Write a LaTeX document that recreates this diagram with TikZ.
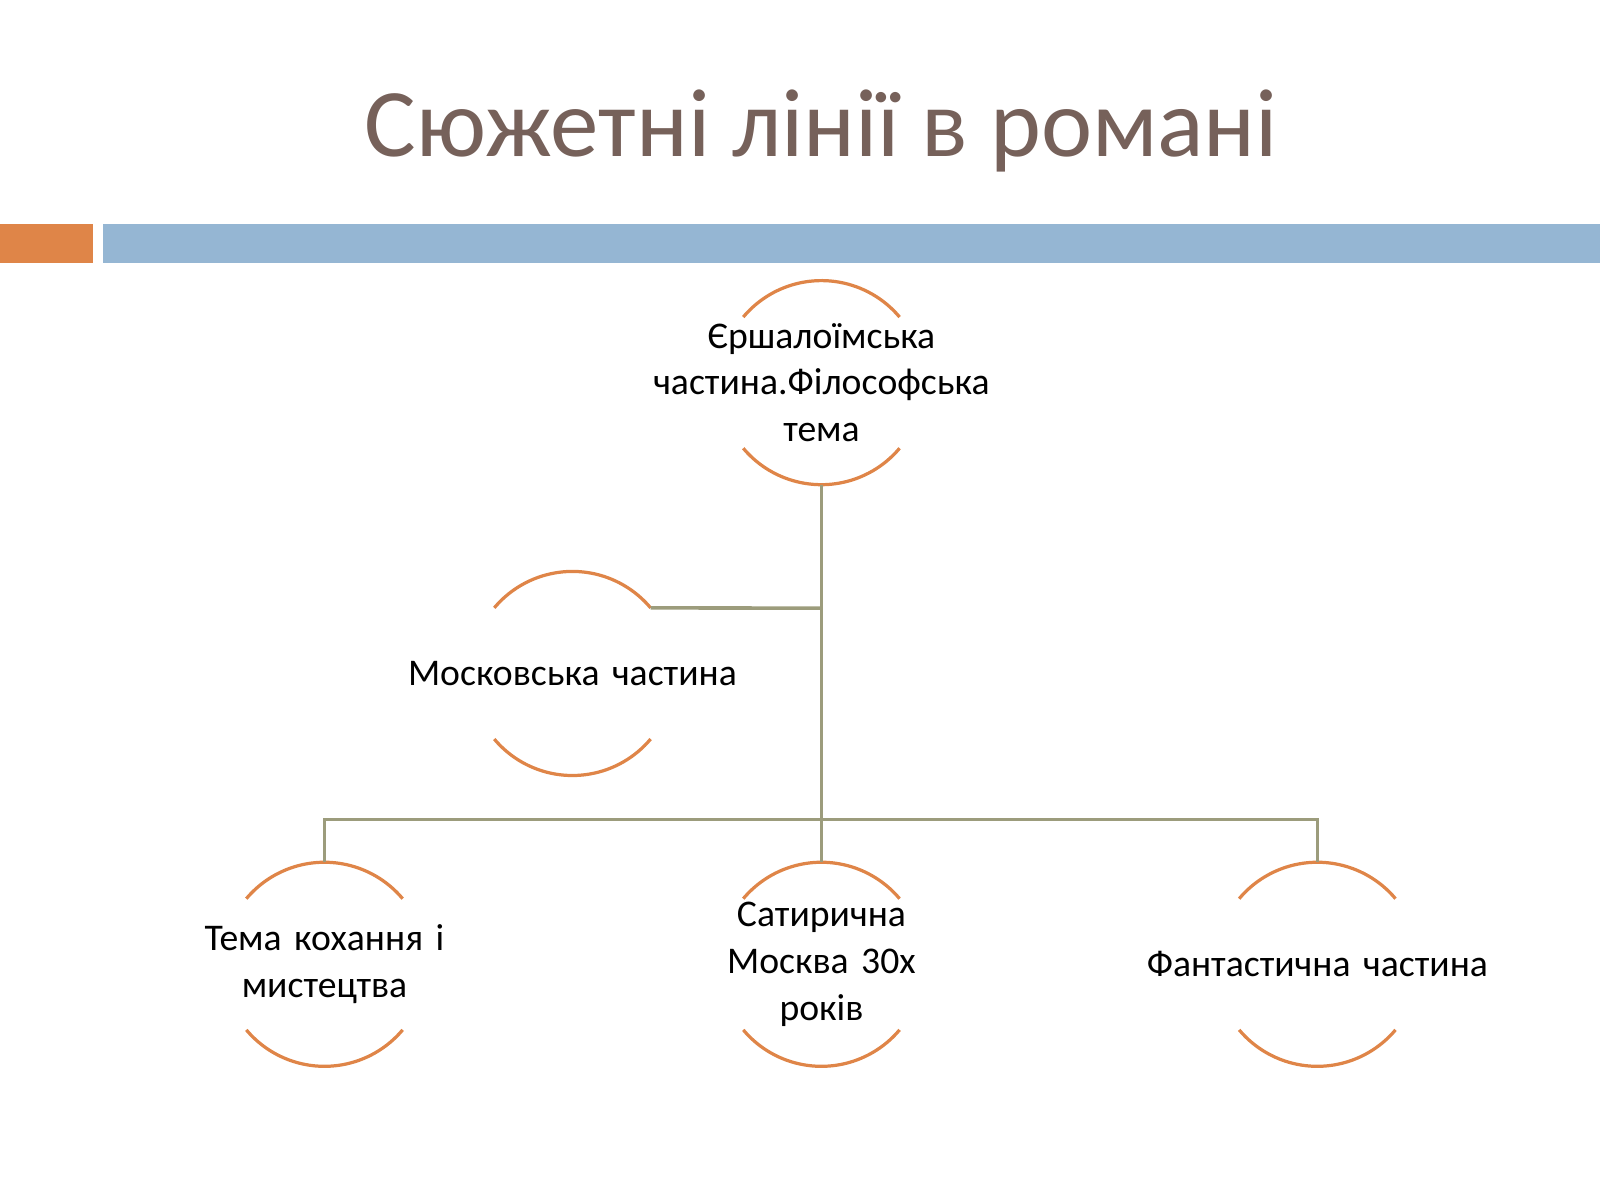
\documentclass[tikz,border=0pt]{standalone}
\usepackage{fontspec}
\setmainfont{Carlito}
\definecolor{titlebrown}{HTML}{76615A}
\definecolor{arcorange}{HTML}{DF8548}
\definecolor{barblue}{HTML}{95B6D3}
\definecolor{lineolive}{HTML}{9C9C7C}
\tikzset{
	plot text/.style={align=center, font=\fontsize{10.5}{13}\selectfont, text width=3.6cm, inner sep=0pt},
	ring/.style={draw=arcorange, line width=0.9pt},
	tree line/.style={draw=lineolive, line width=1pt}
}
\newcommand{\ringnode}[3]{%
	\node (#1) at (#2) [plot text]{#3};
	\draw[ring] (#1.center) ++(220:100) arc (220:320:100);
	\draw[ring] (#1.center) ++(140:100) arc (140:40:100);
	\path (#1.center) ++(0,-100) coordinate (#1 top) ++(0,200) coordinate (#1 bottom);
	\path (#1.center) ++(320:100) coordinate (#1 right);
}
\begin{document}
\begin{tikzpicture}[x=0.01cm,y=-0.01cm]
	\useasboundingbox (0,0) rectangle (1568,1176);
	
	%Title
	\node (title) at (805,128) [text=titlebrown, font=\fontsize{27}{32}\selectfont]{Сюжетні лінії в романі};
	
	%Bars
	\fill[arcorange] (0,220) rectangle (91,258);
	\fill[barblue] (101,220) rectangle (1568,258);
	
	%Circles
	\ringnode{jersh}{805,375}{Єршалоїмська\\ частина.Філософська\\ тема}
	\ringnode{moscow}{561,660}{Московська частина}
	\ringnode{love}{318,945}{Тема кохання і\\ мистецтва}
	\ringnode{satire}{805,945}{Сатирична Москва 30х\\ років}
	\ringnode{fantasy}{1291,945}{Фантастична частина}
	
	%Tree
	\coordinate (fork) at (805,803);
	\draw[tree line] (jersh bottom) -- (fork);
	\draw[tree line] (moscow right) -- (805,596);
	\draw[tree line] (love top) |- (fork) -| (fantasy top);
	\draw[tree line] (fork) -- (satire top);
	
\end{tikzpicture}
\end{document}
